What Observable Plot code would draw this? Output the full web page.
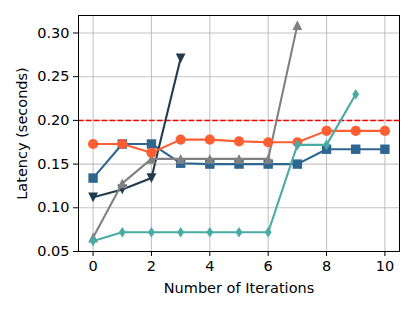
<!DOCTYPE html>
<html>
<head>
<meta charset="utf-8">
<script src="https://cdn.jsdelivr.net/npm/d3@7"></script>
<script src="https://cdn.jsdelivr.net/npm/@observablehq/plot@0.6"></script>
<style>
  html, body { margin: 0; padding: 0; background: #fff; }
  #chart svg { display: block; }
</style>
</head>
<body>
<div id="chart"></div>
<script>
// ---- data ----
const xTicks = [0, 2, 4, 6, 8, 10];
const yTicks = [0.05, 0.10, 0.15, 0.20, 0.25, 0.30];
const threshold = 0.20;

const navyX = [0, 1, 2, 3];
const navyY = [0.112, 0.121, 0.134, 0.271];

const grayX = [0, 1, 2, 3, 4, 5, 6, 7];
const grayY = [0.066, 0.128, 0.156, 0.156, 0.156, 0.156, 0.156, 0.309];

const blueX = [0, 1, 2, 3, 4, 5, 6, 7, 8, 9, 10];
const blueY = [0.134, 0.173, 0.173, 0.151, 0.150, 0.150, 0.150, 0.150, 0.167, 0.167, 0.167];

const orangeX = [0, 1, 2, 3, 4, 5, 6, 7, 8, 9, 10];
const orangeY = [0.173, 0.173, 0.163, 0.178, 0.178, 0.176, 0.175, 0.175, 0.188, 0.188, 0.188];

const tealX = [0, 1, 2, 3, 4, 5, 6, 7, 8, 9];
const tealY = [0.062, 0.072, 0.072, 0.072, 0.072, 0.072, 0.072, 0.172, 0.172, 0.230];

// ---- custom marker shapes ----
const sq = {draw(ctx, size) { const h = Math.sqrt(size / Math.PI); ctx.rect(-h, -h, 2 * h, 2 * h); }};
const circ = {draw(ctx, size) { const r = Math.sqrt(size / Math.PI); ctx.moveTo(r, 0); ctx.arc(0, 0, r, 0, 2 * Math.PI); }};
const triUp = {draw(ctx, size) { const r = Math.sqrt(size / Math.PI); ctx.moveTo(0, -r); ctx.lineTo(r, r); ctx.lineTo(-r, r); ctx.closePath(); }};
const triDown = {draw(ctx, size) { const r = Math.sqrt(size / Math.PI); ctx.moveTo(0, r); ctx.lineTo(r, -r); ctx.lineTo(-r, -r); ctx.closePath(); }};
const thinDiamond = {draw(ctx, size) { const r = Math.sqrt(size / Math.PI); ctx.moveTo(0, -r * 1.15); ctx.lineTo(r * 0.75, 0); ctx.lineTo(0, r * 1.15); ctx.lineTo(-r * 0.75, 0); ctx.closePath(); }};

const toRows = (xs, ys) => xs.map((x, i) => ({x, y: ys[i]}));

const series = [
  {rows: toRows(blueX, blueY), color: "#2e6690", symbol: sq, r: 4.7},
  {rows: toRows(navyX, navyY), color: "#223c4e", symbol: triDown, r: 4.9},
  {rows: toRows(grayX, grayY), color: "#808080", symbol: triUp, r: 4.9},
  {rows: toRows(orangeX, orangeY), color: "#fd5f33", symbol: circ, r: 5.1},
  {rows: toRows(tealX, tealY), color: "#4aaaa5", symbol: thinDiamond, r: 4.6}
];

const FS = 14.5;
const marks = [
  Plot.gridX(xTicks, {stroke: "#b0b0b0", strokeOpacity: 0.75, strokeWidth: 1.1}),
  Plot.gridY(yTicks, {stroke: "#b0b0b0", strokeOpacity: 0.75, strokeWidth: 1.1}),
  Plot.ruleY([threshold], {stroke: "#ff0000", strokeWidth: 1.5, strokeDasharray: "5.5,2.4"})
];
for (const s of series) {
  marks.push(Plot.line(s.rows, {x: "x", y: "y", stroke: s.color, strokeWidth: 2.1}));
  marks.push(Plot.dot(s.rows, {x: "x", y: "y", fill: s.color, stroke: "none", symbol: () => s.symbol, r: s.r}));
}
marks.push(
  Plot.frame({stroke: "#000", strokeWidth: 1}),
  Plot.axisX(xTicks, {tickSize: 5, tickPadding: 4, fontSize: FS, color: "#000", label: null}),
  Plot.axisY(yTicks, {tickSize: 5, tickPadding: 4, fontSize: FS, tickFormat: d3.format(".2f"), color: "#000", label: null}),
  Plot.text(["Latency (seconds)"], {frameAnchor: "left", dx: -56, rotate: -90, fontSize: FS, fill: "#000", textAnchor: "middle", lineAnchor: "middle"}),
  Plot.text(["Number of Iterations"], {frameAnchor: "bottom", dy: 37, fontSize: FS, fill: "#000", textAnchor: "middle", lineAnchor: "middle"})
);

const chart = Plot.plot({
  width: 415,
  height: 312,
  marginLeft: 78,
  marginRight: 16,
  marginTop: 15,
  marginBottom: 61,
  style: {fontFamily: "DejaVu Sans", fontSize: FS + "px", background: "#fff", color: "#000"},
  x: {domain: [-0.5, 10.5]},
  y: {domain: [0.05, 0.32]},
  marks
});
document.getElementById("chart").appendChild(chart);
</script>
</body>
</html>
